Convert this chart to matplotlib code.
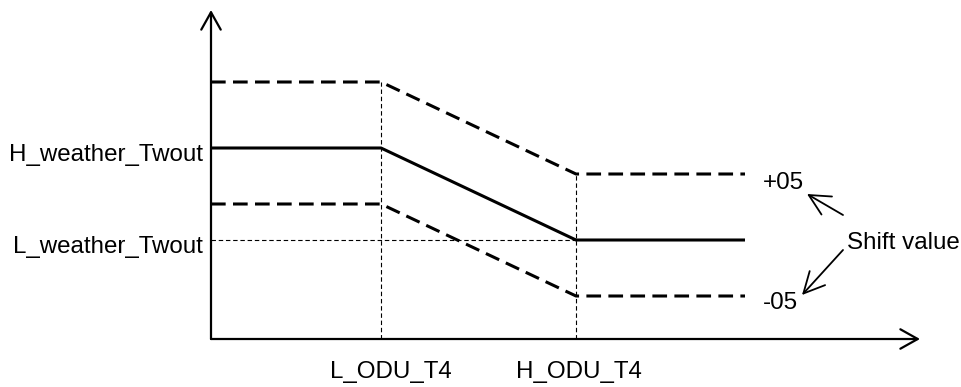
import matplotlib
matplotlib.use("Agg")
import matplotlib.pyplot as plt
import numpy as np

plt.rcParams['font.family'] = ['Liberation Sans', 'DejaVu Sans']

# x breakpoints: origin, L_ODU_T4, H_ODU_T4, end of curve
x_pts = [0, 170, 365, 534]
x_labels = ['L_ODU_T4', 'H_ODU_T4']
# water temperature levels
y_high = 191   # H_weather_Twout
y_low = 99     # L_weather_Twout
shift_up = 66  # +05
shift_dn = -56 # -05
y_labels = ['H_weather_Twout', 'L_weather_Twout']
shift_labels = ['+05', '-05']

base = np.array([y_high, y_high, y_low, y_low])
upper = base + shift_up
lower = base + shift_dn

fig = plt.figure(figsize=(9.61, 3.87), dpi=100)
ax = fig.add_axes([0, 0, 1, 1])
ax.set_xlim(-211, 750)
ax.set_ylim(-48, 339)
ax.axis('off')

# axes with open arrow heads
arr = dict(arrowstyle='->,head_length=1.25,head_width=0.7', lw=1.6, color='black',
           mutation_scale=10, shrinkA=0, shrinkB=0)
ax.annotate('', xy=(0, 329), xytext=(0, 0), arrowprops=arr)
ax.annotate('', xy=(709, 0), xytext=(0, 0), arrowprops=arr)

# curves
ax.plot(x_pts, base, color='black', lw=2.2, solid_capstyle='butt')
ax.plot(x_pts, upper, color='black', lw=2.2, dashes=(4.8, 2.4))
ax.plot(x_pts, lower, color='black', lw=2.2, dashes=(4.8, 2.4))

# guide lines
thin = dict(color='black', lw=0.8, dashes=(4, 2.5))
ax.plot([x_pts[0], x_pts[2]], [y_low, y_low], **thin)
ax.plot([x_pts[1], x_pts[1]], [0, upper[1]], **thin)
ax.plot([x_pts[2], x_pts[2]], [0, upper[2]], **thin)

fs = 17.4
ax.text(-8, y_high - 7, y_labels[0], ha='right', va='center', fontsize=fs)
ax.text(-8, y_low - 7, y_labels[1], ha='right', va='center', fontsize=fs)
ax.text(x_pts[1] + 10, -33, x_labels[0], ha='center', va='center', fontsize=fs)
ax.text(x_pts[2] + 3, -33, x_labels[1], ha='center', va='center', fontsize=fs)
ax.text(x_pts[3] + 18, upper[3] - 9, shift_labels[0], ha='left', va='center', fontsize=fs)
ax.text(x_pts[3] + 18, lower[3] - 7, shift_labels[1], ha='left', va='center', fontsize=fs)
ax.text(636, 96, 'Shift value', ha='left', va='center', fontsize=fs)

sarr = dict(arrowstyle='->,head_length=1.5,head_width=0.75', lw=1.3, color='black',
            mutation_scale=10, shrinkA=0, shrinkB=0)
ax.annotate('', xy=(596, 145), xytext=(632, 124), arrowprops=sarr)
ax.annotate('', xy=(591, 44), xytext=(632, 89), arrowprops=sarr)

fig.savefig('out.png', dpi=100)
